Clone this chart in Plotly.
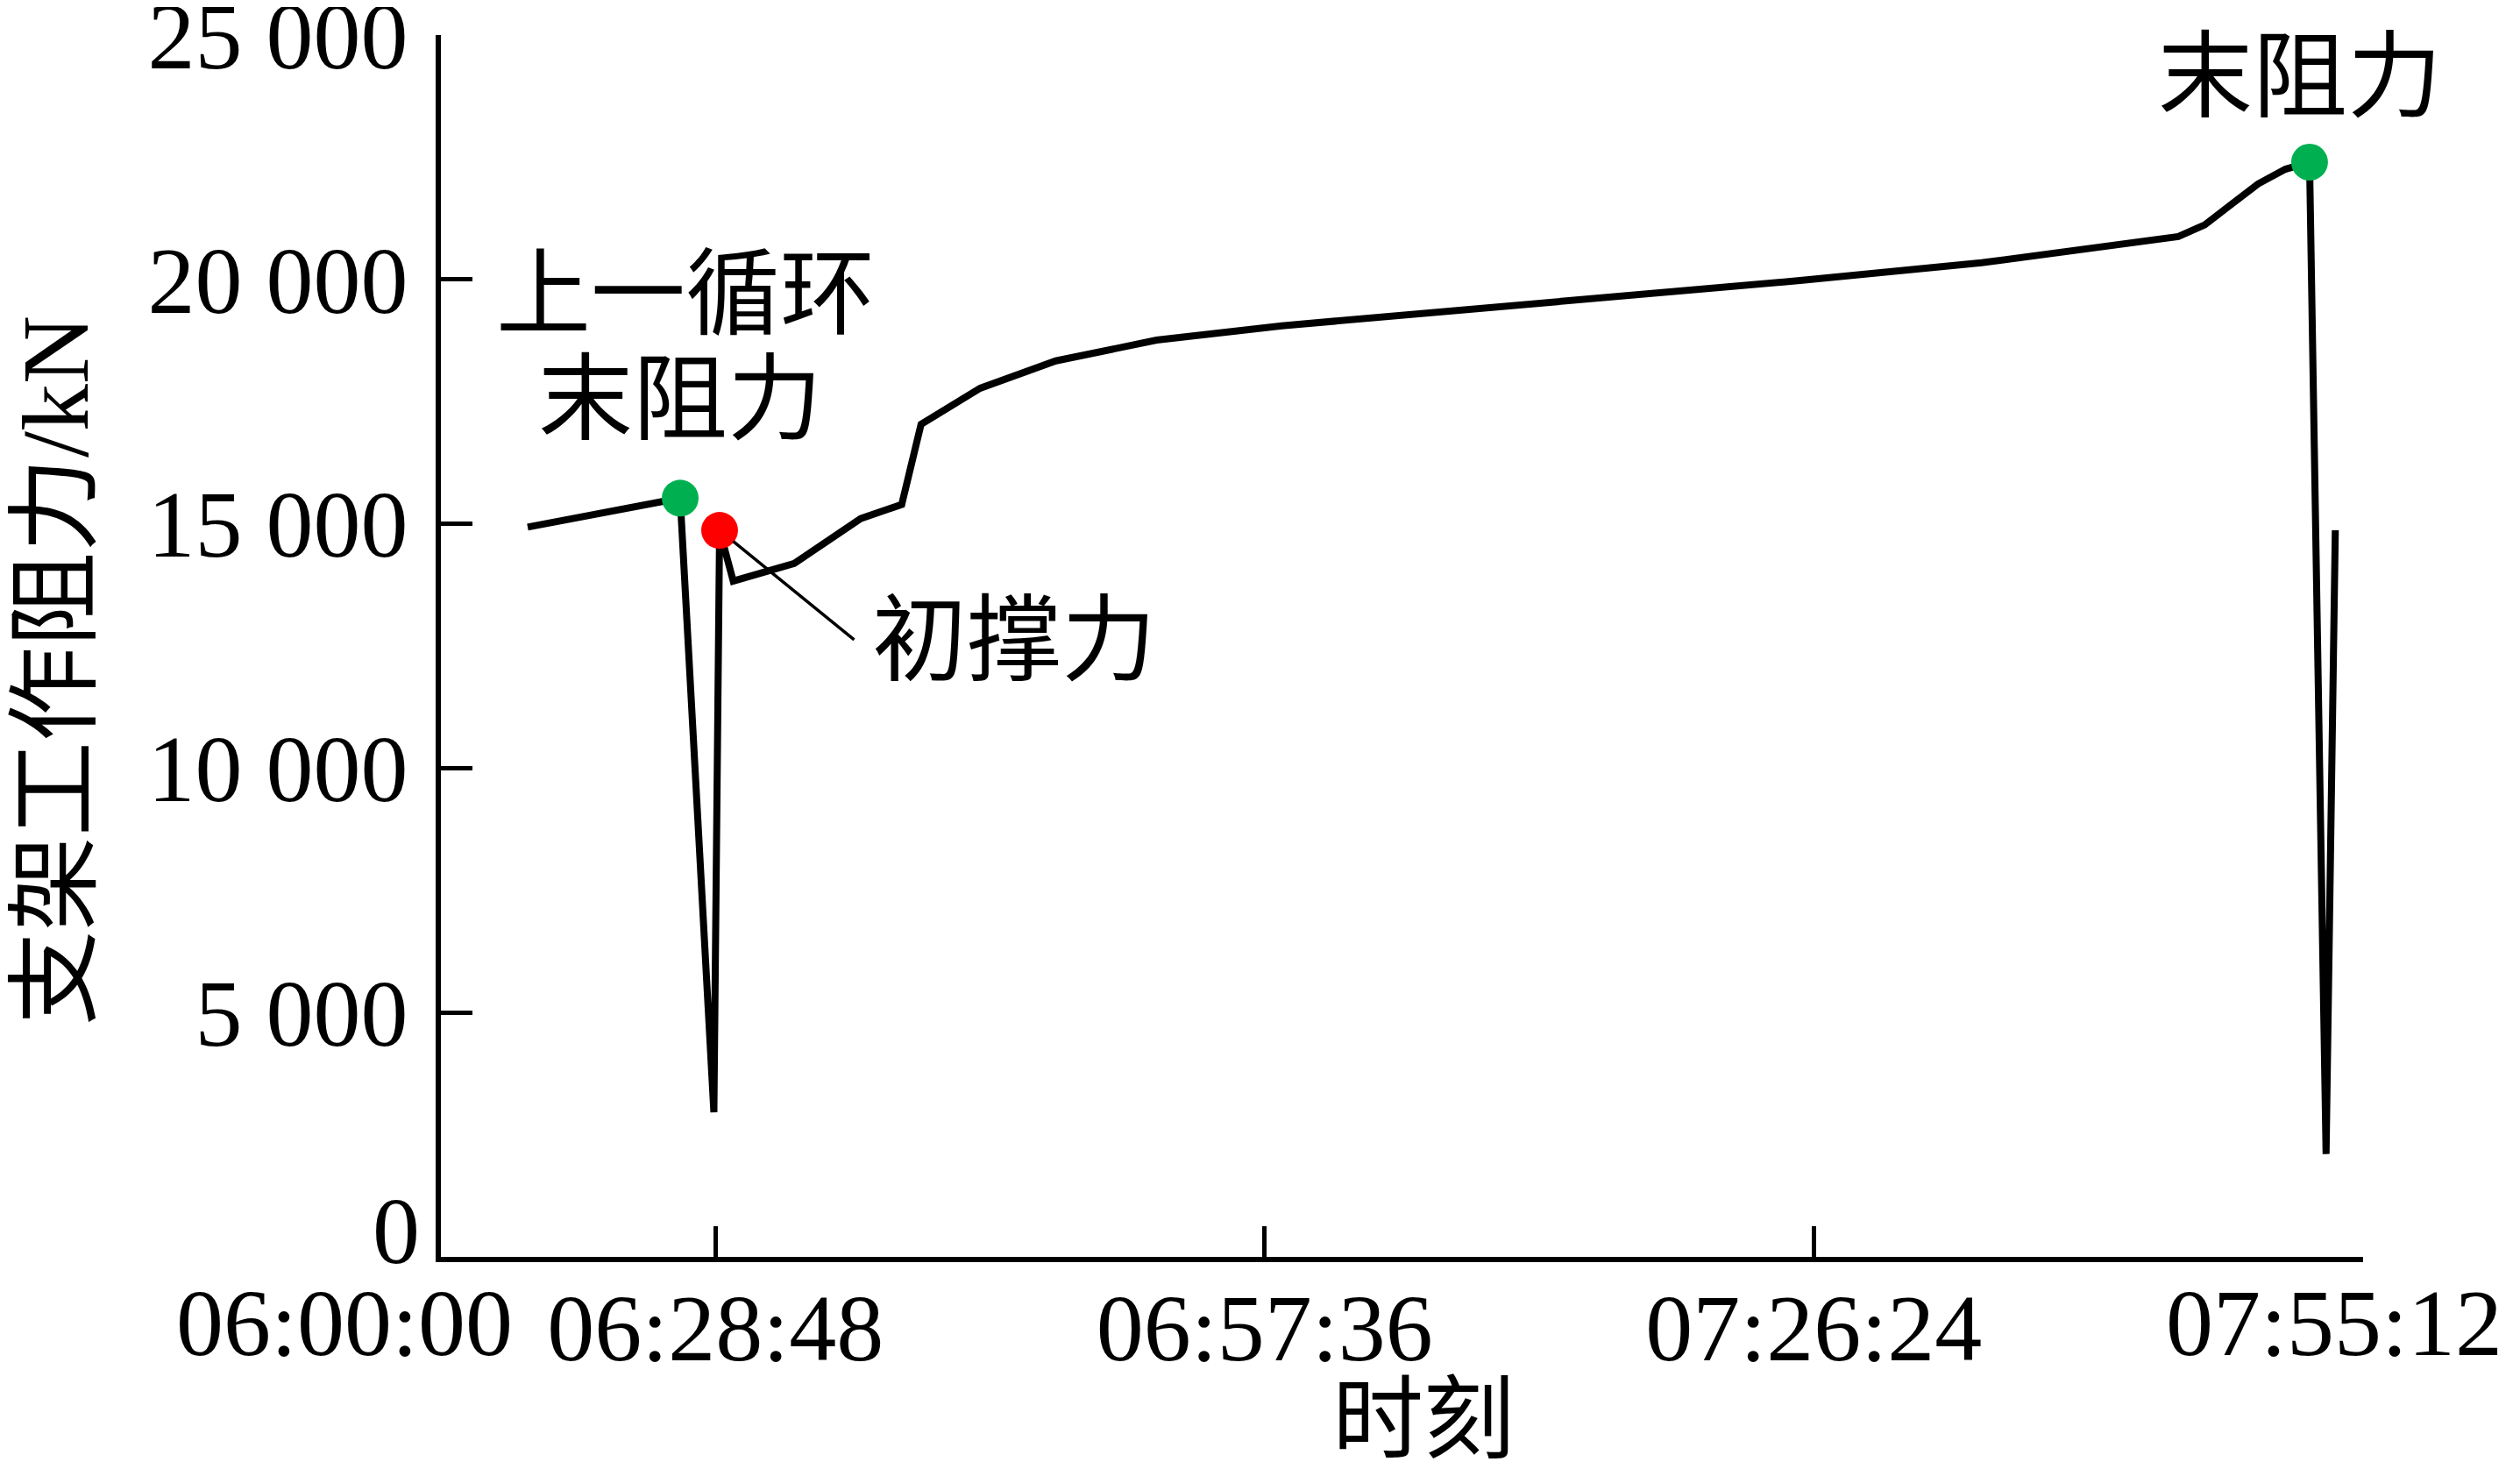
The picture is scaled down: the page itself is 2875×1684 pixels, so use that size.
import plotly.graph_objects as go

# Data
times = [
    "2024-01-01 06:18:57", "2024-01-01 06:26:57", "2024-01-01 06:28:43",
    "2024-01-01 06:29:01", "2024-01-01 06:29:44", "2024-01-01 06:32:56",
    "2024-01-01 06:36:25", "2024-01-01 06:38:34", "2024-01-01 06:39:35",
    "2024-01-01 06:42:41", "2024-01-01 06:46:39", "2024-01-01 06:51:56",
    "2024-01-01 06:58:30", "2024-01-01 07:06:24", "2024-01-01 07:16:28",
    "2024-01-01 07:25:48", "2024-01-01 07:35:12", "2024-01-01 07:42:14",
    "2024-01-01 07:45:31", "2024-01-01 07:46:54", "2024-01-01 07:49:42",
    "2024-01-01 07:51:08", "2024-01-01 07:52:24", "2024-01-01 07:53:16",
    "2024-01-01 07:53:45",
]
resistance = [
    14934, 15526, 2961,
    14868, 13829, 14190,
    15109, 15395, 17039,
    17776, 18335, 18760,
    19053, 19322, 19684,
    19984, 20342, 20700,
    20878, 21118, 21957,
    22257, 22401, 2105,
    14868,
]

end_points_t = ["2024-01-01 06:26:57", "2024-01-01 07:52:24"]
end_points_v = [15526, 22401]
setting_t = ["2024-01-01 06:29:01"]
setting_v = [14868]

tick_vals = ["2024-01-01 06:28:48", "2024-01-01 06:57:36",
             "2024-01-01 07:26:24", "2024-01-01 07:55:12"]
tick_text = ["06:28:48", "06:57:36", "07:26:24", ""]
y_ticks = [0, 5000, 10000, 15000, 20000, 25000]
y_text = ["", "5 000", "10 000", "15 000", "20 000", "25 000"]
x_range = ["2024-01-01 06:14:24", "2024-01-01 07:55:12.5"]
y_range = [0, 25002]

FONT = "Liberation Serif, Times New Roman, Noto Sans CJK SC"
FS = 108
BLACK = dict(size=FS, family=FONT, color="black")

fig = go.Figure()
fig.add_trace(go.Scatter(x=times, y=resistance, mode="lines",
                         line=dict(color="black", width=8), showlegend=False))
fig.add_trace(go.Scatter(x=end_points_t, y=end_points_v, mode="markers",
                         marker=dict(color="#00b050", size=42), showlegend=False))
fig.add_trace(go.Scatter(x=setting_t, y=setting_v, mode="markers",
                         marker=dict(color="#ff0000", size=42), showlegend=False))

annotations = [
    dict(x=end_points_t[0], y=end_points_v[0], text="上一循环", showarrow=False,
         xshift=6, yshift=232, font=BLACK),
    dict(x=end_points_t[0], y=end_points_v[0], text="末阻力", showarrow=False,
         xshift=0, yshift=112, font=BLACK),
    dict(x=end_points_t[1], y=end_points_v[1], text="末阻力", showarrow=False,
         xshift=-11, yshift=97, font=BLACK),
    # leader line for 初撑力
    dict(x=setting_t[0], y=setting_v[0], text="", showarrow=True,
         arrowhead=0, arrowwidth=3.5, arrowcolor="black", standoff=20,
         ax=155, ay=126),
    dict(x=setting_t[0], y=setting_v[0], text="初撑力", showarrow=False,
         xanchor="left", xshift=172, yshift=-126, font=BLACK),
    # first / last x labels and the y zero label
    dict(x=0, y=0, xref="paper", yref="paper", text="06:00:00", showarrow=False,
         xanchor="center", yanchor="top", xshift=-110, yshift=-14, font=BLACK),
    dict(x=tick_vals[-1], y=0, yref="paper", text="07:55:12", showarrow=False,
         xanchor="center", yanchor="top", xshift=-33, yshift=-14, font=BLACK),
    dict(x=0, y=0, xref="paper", yref="paper", text="0", showarrow=False,
         xanchor="right", yanchor="middle", xshift=-22, yshift=30, font=BLACK),
    # axis titles
    dict(x=0.5, y=0, xref="paper", yref="paper", text="时刻", showarrow=False,
         xanchor="center", yanchor="middle", xshift=24, yshift=-186,
         font=dict(size=104, family=FONT, color="black")),
    dict(x=0, y=0.5, xref="paper", yref="paper", text="支架工作阻力/kN", showarrow=False,
         textangle=-90, xanchor="center", yanchor="middle", xshift=-440, yshift=-28,
         font=BLACK),
]

fig.update_layout(
    width=2875, height=1684,
    margin=dict(l=495, r=187, t=32, b=258),
    paper_bgcolor="white", plot_bgcolor="white",
    font=dict(family=FONT, size=FS, color="black"),
    annotations=annotations,
    xaxis=dict(
        type="date", range=x_range, tickvals=tick_vals, ticktext=tick_text,
        showgrid=False, zeroline=False, showline=True, linecolor="black", linewidth=6,
        ticks="inside", ticklen=35, tickwidth=4.5, tickcolor="black",
        ticklabelstandoff=-18, ticklabeloverflow="allow",
        tickfont=BLACK, automargin=False,
    ),
    yaxis=dict(
        range=y_range, tickvals=y_ticks, ticktext=y_text,
        showgrid=False, zeroline=False, showline=True, linecolor="black", linewidth=6,
        ticks="inside", ticklen=36, tickwidth=5, tickcolor="black",
        ticklabelstandoff=10, ticklabeloverflow="allow",
        tickfont=BLACK, automargin=False,
    ),
)

fig.write_html("out.html")
